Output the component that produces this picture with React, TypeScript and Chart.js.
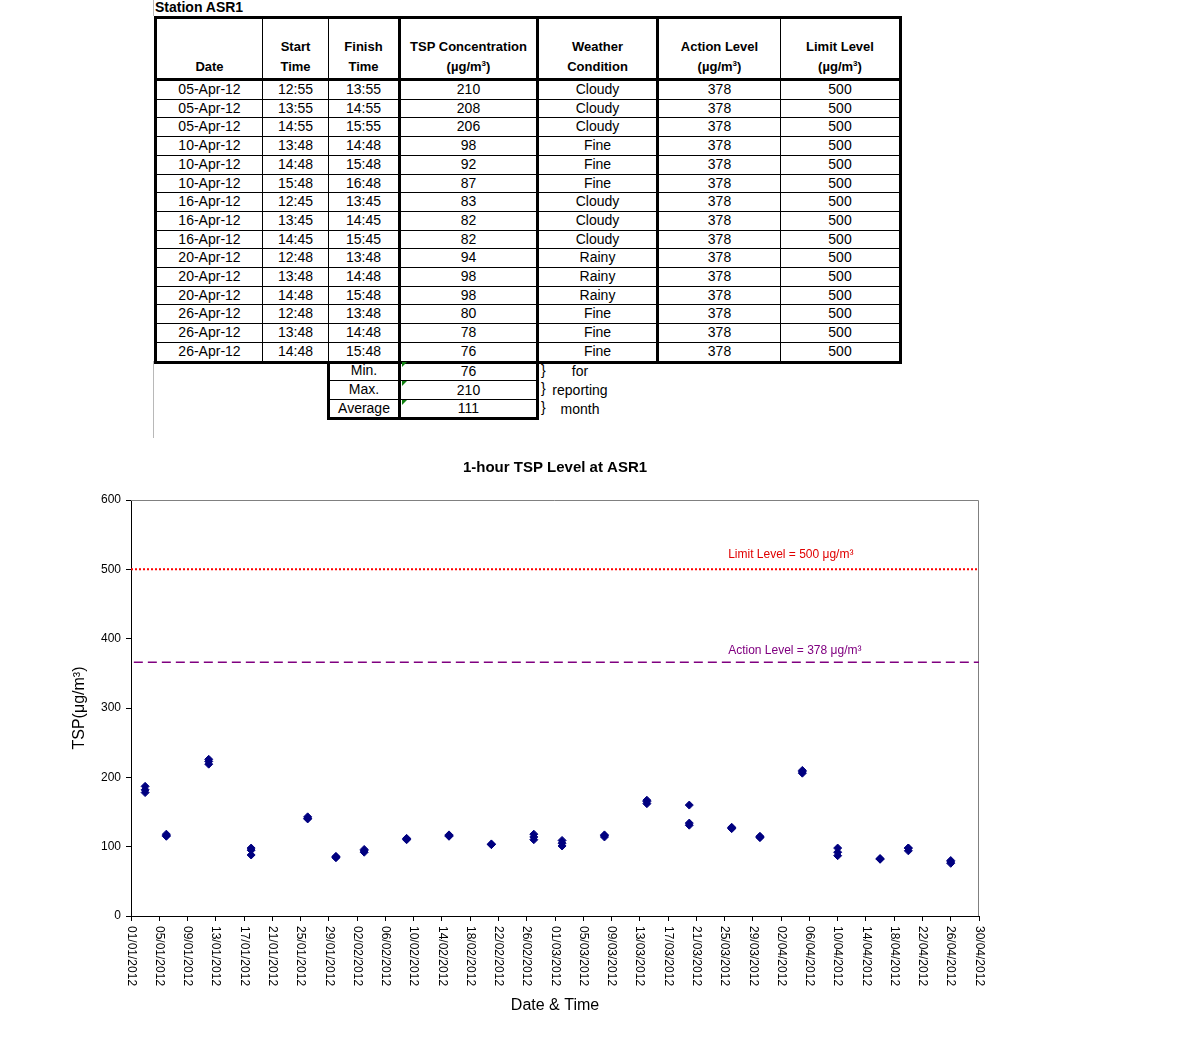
import React, { useEffect, useRef } from "react";
import { Chart, registerables } from "chart.js";

Chart.register(...registerables);

// ---------- Chart data ----------
const sampleDates = [
  "2012-01-03", "2012-01-06", "2012-01-12", "2012-01-18", "2012-01-26", "2012-01-30",
  "2012-02-03", "2012-02-09", "2012-02-15", "2012-02-21", "2012-02-27",
  "2012-03-02", "2012-03-08", "2012-03-14", "2012-03-20", "2012-03-26", "2012-03-30",
  "2012-04-05", "2012-04-10", "2012-04-16", "2012-04-20", "2012-04-26",
];
const tspRun1 = [187, 118, 226, 98, 143, 86, 96, 112, 117, 104, 118, 109, 117, 167, 160, 128, 115, 210, 98, 83, 94, 80];
const tspRun2 = [182, 116, 223, 95, 141, 85, 94, 111, 116, 103, 114, 105, 116, 165, 134, 127, 114, 208, 92, 82, 98, 78];
const tspRun3 = [178, 115, 219, 88, 140, 84, 92, 110, 115, 103, 110, 101, 114, 162, 131, 126, 113, 206, 87, 82, 98, 76];

const xTickLabels = [
  "01/01/2012", "05/01/2012", "09/01/2012", "13/01/2012", "17/01/2012", "21/01/2012",
  "25/01/2012", "29/01/2012", "02/02/2012", "06/02/2012", "10/02/2012", "14/02/2012",
  "18/02/2012", "22/02/2012", "26/02/2012", "01/03/2012", "05/03/2012", "09/03/2012",
  "13/03/2012", "17/03/2012", "21/03/2012", "25/03/2012", "29/03/2012", "02/04/2012",
  "06/04/2012", "10/04/2012", "14/04/2012", "18/04/2012", "22/04/2012", "26/04/2012",
  "30/04/2012",
];
const axisStartDate = "2012-01-01";
const axisEndDate = "2012-04-30";
const xTickStepDays = 4;
const yMin = 0;
const yMax = 600;
const yStep = 100;

const limitLevelLine = 500;
const actionLevelLine = 366; // as drawn in the picture
const limitLabel = "Limit Level = 500 \u03bcg/m\u00b3";
const actionLabel = "Action Level = 378 \u03bcg/m\u00b3";
const labelAnchorDay = 84.5;

// ---------- Table data ----------
const tableDates = [
  "05-Apr-12", "05-Apr-12", "05-Apr-12", "10-Apr-12", "10-Apr-12", "10-Apr-12",
  "16-Apr-12", "16-Apr-12", "16-Apr-12", "20-Apr-12", "20-Apr-12", "20-Apr-12",
  "26-Apr-12", "26-Apr-12", "26-Apr-12",
];
const startTimes = ["12:55", "13:55", "14:55", "13:48", "14:48", "15:48", "12:45", "13:45", "14:45", "12:48", "13:48", "14:48", "12:48", "13:48", "14:48"];
const finishTimes = ["13:55", "14:55", "15:55", "14:48", "15:48", "16:48", "13:45", "14:45", "15:45", "13:48", "14:48", "15:48", "13:48", "14:48", "15:48"];
const tspConcentrations = [210, 208, 206, 98, 92, 87, 83, 82, 82, 94, 98, 98, 80, 78, 76];
const weatherConditions = ["Cloudy", "Cloudy", "Cloudy", "Fine", "Fine", "Fine", "Cloudy", "Cloudy", "Cloudy", "Rainy", "Rainy", "Rainy", "Fine", "Fine", "Fine"];
const actionLevelValue = 378;
const limitLevelValue = 500;
const summaryLabels = ["Min.", "Max.", "Average"];
const summaryValues = [76, 210, 111];
const summaryNotes = ["for", "reporting", "month"];

const FONT = "'Liberation Sans', Arial, Helvetica, sans-serif";

const dayOf = (s: string) =>
  (Date.parse(s + "T00:00:00Z") - Date.parse(axisStartDate + "T00:00:00Z")) / 86400000;

function TspChart() {
  const ref = useRef<HTMLCanvasElement | null>(null);
  useEffect(() => {
    if (!ref.current) return;
    const points = sampleDates.flatMap((d, i) =>
      [tspRun1[i], tspRun2[i], tspRun3[i]].map((v) => ({ x: dayOf(d), y: v }))
    );
    const xMin = dayOf(axisStartDate);
    const xMax = dayOf(axisEndDate);

    const framePlugin = {
      id: "frame",
      beforeDatasetsDraw(chart: any) {
        const { ctx, chartArea } = chart;
        ctx.save();
        ctx.strokeStyle = "#808080";
        ctx.lineWidth = 1;
        ctx.beginPath();
        ctx.moveTo(chartArea.left, chartArea.top + 0.5);
        ctx.lineTo(chartArea.right - 0.5, chartArea.top + 0.5);
        ctx.lineTo(chartArea.right - 0.5, chartArea.bottom);
        ctx.stroke();
        ctx.restore();
      },
    };

    const labelsPlugin = {
      id: "customLabels",
      afterDraw(chart: any) {
        const { ctx } = chart;
        const xs = chart.scales.x;
        const ys = chart.scales.y;
        ctx.save();
        ctx.font = `12px ${FONT}`;
        ctx.fillStyle = "#000";
        ctx.textAlign = "left";
        ctx.textBaseline = "middle";
        xs.ticks.forEach((t: any, i: number) => {
          const px = xs.getPixelForValue(t.value);
          ctx.save();
          ctx.translate(px, xs.top + 10);
          ctx.rotate(Math.PI / 2);
          ctx.fillText(xTickLabels[i] ?? "", 0, 0);
          ctx.restore();
        });
        // level annotations
        ctx.textBaseline = "alphabetic";
        const lx = xs.getPixelForValue(labelAnchorDay);
        ctx.fillStyle = "#e00000";
        ctx.fillText(limitLabel, lx, ys.getPixelForValue(limitLevelLine) - 11);
        ctx.fillStyle = "#800080";
        ctx.fillText(actionLabel, lx, ys.getPixelForValue(actionLevelLine) - 8);
        ctx.restore();
      },
    };

    const chart = new Chart(ref.current, {
      type: "scatter",
      data: {
        datasets: [
          {
            type: "line",
            label: "Limit",
            data: [
              { x: xMin, y: limitLevelLine },
              { x: xMax, y: limitLevelLine },
            ],
            borderColor: "#ff0000",
            borderWidth: 2,
            borderDash: [2, 2],
            pointRadius: 0,
            fill: false,
          } as any,
          {
            type: "line",
            label: "Action",
            data: [
              { x: xMin + 0.4, y: actionLevelLine },
              { x: xMax, y: actionLevelLine },
            ],
            borderColor: "#800080",
            borderWidth: 1.5,
            borderDash: [9, 5],
            pointRadius: 0,
            fill: false,
          } as any,
          {
            label: "TSP",
            data: points,
            pointStyle: "rectRot",
            pointRadius: 4,
            backgroundColor: "#000080",
            borderColor: "#000080",
            borderWidth: 1,
          },
        ],
      },
      options: {
        responsive: false,
        animation: false,
        layout: { padding: { left: 66, right: 223, top: 0, bottom: 33 } },
        plugins: {
          legend: { display: false },
          tooltip: { enabled: false },
          title: {
            display: true,
            text: "1-hour TSP Level at ASR1",
            fullSize: false,
            color: "#000",
            font: { family: FONT, size: 15, weight: "bold" },
            padding: { top: 19, bottom: 23 },
          },
        },
        scales: {
          x: {
            type: "linear",
            min: xMin,
            max: xMax,
            afterFit(scale: any) {
              scale.height = 103;
            },
            ticks: { stepSize: xTickStepDays, autoSkip: false, display: false },
            grid: { drawOnChartArea: false, drawTicks: true, tickLength: 5, color: "#000" },
            border: { display: true, color: "#000", width: 1 },
            title: {
              display: true,
              text: "Date & Time",
              color: "#000",
              font: { family: FONT, size: 16 },
            },
          },
          y: {
            type: "linear",
            min: yMin,
            max: yMax,
            afterFit(scale: any) {
              scale.width = 65;
            },
            ticks: {
              stepSize: yStep,
              color: "#000",
              padding: 5,
              font: { family: FONT, size: 12 },
            },
            grid: { drawOnChartArea: false, drawTicks: true, tickLength: 5, color: "#000" },
            border: { display: true, color: "#000", width: 1 },
            title: {
              display: true,
              text: "TSP(\u03bcg/m\u00b3)",
              color: "#000",
              font: { family: FONT, size: 16 },
            },
          },
        },
      },
      plugins: [framePlugin, labelsPlugin],
    } as any);
    return () => chart.destroy();
  }, []);
  return (
    <canvas
      ref={ref}
      width={1202}
      height={612}
      style={{ position: "absolute", left: 0, top: 440, width: 1202, height: 612 }}
    />
  );
}

const thin = "1px solid #000";
const thick = "3px solid #000";
const colWidths = [107, 66, 71, 138, 120, 123, 120];
const colRight = [thin, thin, thick, thick, thick, thin, thick];

function DataTable() {
  const headCell = (i: number, content: React.ReactNode) => (
    <th
      key={i}
      style={{
        borderRight: colRight[i],
        borderLeft: i === 0 ? thick : undefined,
        borderTop: thick,
        borderBottom: thick,
        height: 58,
        padding: "0 0 1px 0",
        verticalAlign: "bottom",
        textAlign: "center",
        fontWeight: "bold",
        fontSize: 13,
        lineHeight: "20px",
      }}
    >
      {content}
    </th>
  );
  const unit = (
    <>
      ({"\u00b5"}g/m<sup style={{ fontSize: 8, verticalAlign: "top", lineHeight: "14px" }}>3</sup>)
    </>
  );
  return (
    <table
      style={{
        position: "absolute",
        left: 154,
        top: 16,
        borderCollapse: "collapse",
        tableLayout: "fixed",
        fontFamily: FONT,
        fontSize: 14,
        color: "#000",
      }}
    >
      <colgroup>
        {colWidths.map((w, i) => (
          <col key={i} style={{ width: w }} />
        ))}
      </colgroup>
      <thead>
        <tr>
          {headCell(0, "Date")}
          {headCell(1, <>Start<br />Time</>)}
          {headCell(2, <>Finish<br />Time</>)}
          {headCell(3, <>TSP Concentration<br />{unit}</>)}
          {headCell(4, <>Weather<br />Condition</>)}
          {headCell(5, <>Action Level<br />{unit}</>)}
          {headCell(6, <>Limit Level<br />{unit}</>)}
        </tr>
      </thead>
      <tbody>
        {tableDates.map((d, r) => {
          const last = r === tableDates.length - 1;
          const vals = [d, startTimes[r], finishTimes[r], tspConcentrations[r], weatherConditions[r], actionLevelValue, limitLevelValue];
          return (
            <tr key={r}>
              {vals.map((v, i) => (
                <td
                  key={i}
                  style={{
                    borderRight: colRight[i],
                    borderLeft: i === 0 ? thick : undefined,
                    borderBottom: last ? thick : thin,
                    height: 17.7,
                    lineHeight: "17.7px",
                    padding: 0,
                    textAlign: "center",
                  }}
                >
                  {v}
                </td>
              ))}
            </tr>
          );
        })}
      </tbody>
    </table>
  );
}

function SummaryTable() {
  return (
    <table
      style={{
        position: "absolute",
        left: 327,
        top: 362,
        borderCollapse: "collapse",
        tableLayout: "fixed",
        fontFamily: FONT,
        fontSize: 14,
        color: "#000",
      }}
    >
      <colgroup>
        <col style={{ width: 71 }} />
        <col style={{ width: 138 }} />
        <col style={{ width: 90 }} />
      </colgroup>
      <tbody>
        {summaryLabels.map((lab, r) => {
          const last = r === summaryLabels.length - 1;
          return (
            <tr key={r}>
              <td
                style={{
                  borderLeft: thick,
                  borderRight: thick,
                  borderBottom: last ? thick : thin,
                  height: 17.8,
                  lineHeight: "17.8px",
                  padding: 0,
                  textAlign: "center",
                }}
              >
                {lab}
              </td>
              <td
                style={{
                  position: "relative",
                  borderRight: thick,
                  borderBottom: last ? thick : thin,
                  padding: 0,
                  textAlign: "center",
                }}
              >
                <div
                  style={{
                    position: "absolute",
                    left: 1,
                    top: 0,
                    width: 0,
                    height: 0,
                    borderTop: "5px solid #108010",
                    borderRight: "5px solid transparent",
                  }}
                />
                {summaryValues[r]}
              </td>
              <td style={{ padding: 0, position: "relative", whiteSpace: "nowrap" }}>
                <span style={{ position: "absolute", left: 2, top: 0 }}>{"}"}</span>
                <span style={{ display: "block", width: 74, marginLeft: 4, textAlign: "center" }}>
                  {summaryNotes[r]}
                </span>
              </td>
            </tr>
          );
        })}
      </tbody>
    </table>
  );
}

export default function App() {
  return (
    <div
      style={{
        position: "absolute",
        left: 0,
        top: 0,
        width: 1202,
        height: 1052,
        overflow: "hidden",
        background: "#fff",
        fontFamily: FONT,
      }}
    >
      <div style={{ position: "absolute", left: 153, top: 0, width: 1, height: 16, background: "#b8b8b8" }} />
      <div style={{ position: "absolute", left: 153, top: 361, width: 1, height: 77, background: "#b8b8b8" }} />
      <div
        style={{
          position: "absolute",
          left: 155,
          top: 0,
          fontWeight: "bold",
          fontSize: 14,
          lineHeight: "15px",
        }}
      >
        Station ASR1
      </div>
      <DataTable />
      <SummaryTable />
      <TspChart />
    </div>
  );
}
